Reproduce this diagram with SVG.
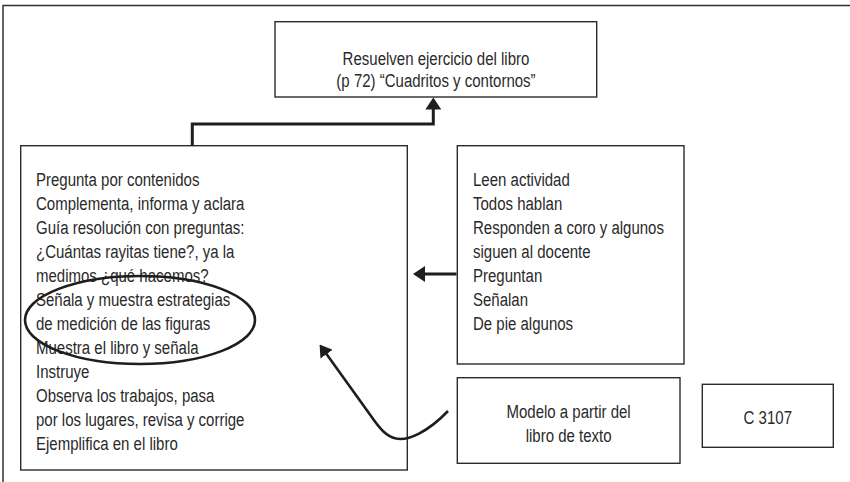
<svg xmlns="http://www.w3.org/2000/svg" width="850" height="482" viewBox="0 0 850 482">
<style>
  .box { fill: #ffffff; stroke: #2b2b2b; stroke-width: 1.4; }
  .txt { font-family: "Liberation Sans", Arial, sans-serif; font-size: 19px; fill: #2a2a2a; }
  .mid { text-anchor: middle; }
  .frame { fill: none; stroke: #333333; stroke-width: 1.5; }
  .conn { fill: none; stroke: #1e1e1e; stroke-width: 3; }
  .curve { fill: none; stroke: #1e1e1e; stroke-width: 2.6; }
  .ring { fill: none; stroke: #1e1e1e; stroke-width: 2.6; }
</style>
<defs>
  <marker id="arrow" viewBox="0 0 12 16" refX="2" refY="8" markerWidth="12" markerHeight="16" markerUnits="userSpaceOnUse" orient="auto">
    <path d="M0,0 L12,8 L0,16 z" fill="#1e1e1e"/>
  </marker>
  <marker id="arrowS" viewBox="0 0 12 15" refX="2" refY="7.5" markerWidth="12" markerHeight="15" markerUnits="userSpaceOnUse" orient="auto">
    <path d="M0,0 L12,7.5 L0,15 z" fill="#1e1e1e"/>
  </marker>
</defs>

<g id="frame">
  <path class="frame" d="M850,5.5 H3 V482"/>
</g>

<g id="node-resuelven">
  <rect class="box" x="275" y="21.7" width="321.7" height="75.3"/>
  <g transform="translate(436,0) scale(0.79,1)">
    <text class="txt mid" x="0" y="65.5">Resuelven ejercicio del libro</text>
    <text class="txt mid" x="0" y="87">(p 72) “Cuadritos y contornos”</text>
  </g>
</g>

<g id="node-docente">
  <rect class="box" x="20.7" y="145.7" width="386.6" height="324.3"/>
  <g transform="translate(36,0) scale(0.79,1)">
    <text class="txt">
      <tspan x="0" y="186.5">Pregunta por contenidos</tspan>
      <tspan x="0" y="210.5">Complementa, informa y aclara</tspan>
      <tspan x="0" y="234.5">Guía resolución con preguntas:</tspan>
      <tspan x="0" y="258.5">¿Cuántas rayitas tiene?, ya la</tspan>
      <tspan x="0" y="282.5">medimos ¿qué hacemos?</tspan>
      <tspan x="0" y="306.5">Señala y muestra estrategias</tspan>
      <tspan x="0" y="330.5">de medición de las figuras</tspan>
      <tspan x="0" y="354.5">Muestra el libro y señala</tspan>
      <tspan x="0" y="378.5">Instruye</tspan>
      <tspan x="0" y="402.5">Observa los trabajos, pasa</tspan>
      <tspan x="0" y="426.5">por los lugares, revisa y corrige</tspan>
      <tspan x="0" y="450.5">Ejemplifica en el libro</tspan>
    </text>
  </g>
  <ellipse class="ring" cx="140" cy="320" rx="115" ry="44"/>
</g>

<g id="node-alumnos">
  <rect class="box" x="457.3" y="145.7" width="226.7" height="218.3"/>
  <g transform="translate(473,0) scale(0.79,1)">
    <text class="txt">
      <tspan x="0" y="186.5">Leen actividad</tspan>
      <tspan x="0" y="210.5">Todos hablan</tspan>
      <tspan x="0" y="234.5">Responden a coro y algunos</tspan>
      <tspan x="0" y="258.5">siguen al docente</tspan>
      <tspan x="0" y="282.5">Preguntan</tspan>
      <tspan x="0" y="306.5">Señalan</tspan>
      <tspan x="0" y="330.5">De pie algunos</tspan>
    </text>
  </g>
</g>

<g id="node-modelo">
  <rect class="box" x="457.3" y="377.7" width="222.7" height="85.6"/>
  <g transform="translate(568.6,0) scale(0.79,1)">
    <text class="txt mid" x="0" y="417.7">Modelo a partir del</text>
    <text class="txt mid" x="0" y="442">libro de texto</text>
  </g>
</g>

<g id="node-codigo">
  <rect class="box" x="702.3" y="384.3" width="131" height="63"/>
  <g transform="translate(767.8,0) scale(0.79,1)">
    <text class="txt mid" x="0" y="424">C 3107</text>
  </g>
</g>

<g id="connectors">
  <path class="conn" d="M192.3,145.7 V124 H433.3 V107.5" marker-end="url(#arrow)"/>
  <path class="conn" d="M456.5,274 H423" marker-end="url(#arrow)"/>
  <path class="curve" d="M448,411 C428,432 408,441 396,438.5 C386,436 380,429 371,416 L325.4,352.6" marker-end="url(#arrowS)"/>
</g>
</svg>
